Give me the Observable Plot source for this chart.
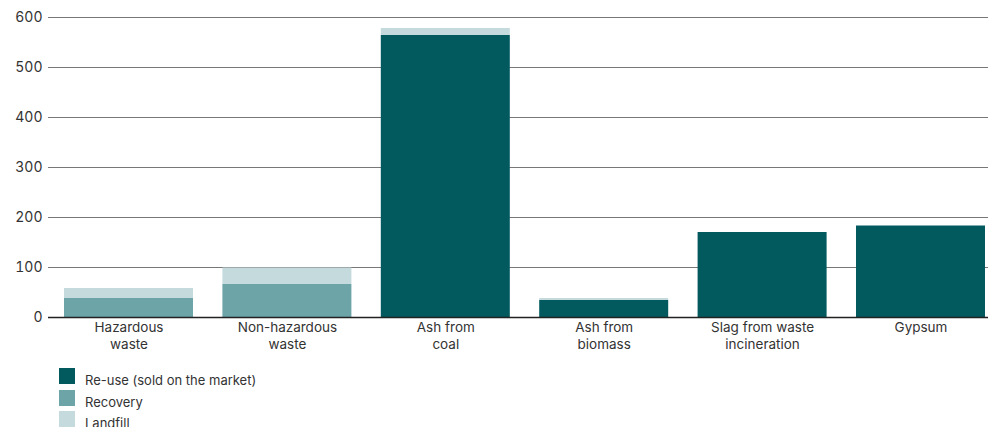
<!DOCTYPE html>
<html>
<head>
<meta charset="utf-8">
<script src="https://cdn.jsdelivr.net/npm/d3@7"></script>
<script src="https://cdn.jsdelivr.net/npm/@observablehq/plot@0.6"></script>
<style>
  body { margin: 0; background: #fff; font-family: Inter, "Open Sans", sans-serif; color: #333; }
  #legend { margin-left: 59px; margin-top: 4.5px; font-size: 13px; }
  .item { display: flex; align-items: flex-end; height: 21.5px; }
  .sw { width: 16px; height: 16px; margin-right: 10px; flex: none; }
  .lbl { line-height: 14px; position: relative; top: 3px; }
</style>
</head>
<body>
<div id="chart"></div>
<div id="legend"></div>
<script>
const categories = ["Hazardous\nwaste", "Non-hazardous\nwaste", "Ash from\ncoal", "Ash from\nbiomass", "Slag from waste\nincineration", "Gypsum"];
const reuse    = [0, 0, 564, 34, 170, 183];
const recovery = [38, 66, 0, 0, 0, 0];
const landfill = [20, 33, 14, 4, 0, 0];
const seriesNames = ["Re-use (sold on the market)", "Recovery", "Landfill"];
const seriesColors = ["#025a5f", "#6da4a8", "#c5dadc"];
const yTicks = [0, 100, 200, 300, 400, 500, 600];

const data = [];
[reuse, recovery, landfill].forEach((vals, si) => {
  categories.forEach((c, i) => data.push({category: c, series: seriesNames[si], value: vals[i]}));
});

const chart = Plot.plot({
  width: 988,
  height: 358,
  marginLeft: 48,
  marginRight: 0,
  marginTop: 17,
  marginBottom: 41,
  style: {fontFamily: "Inter, 'Open Sans', sans-serif", color: "#333", background: "#fff"},
  x: {domain: categories, paddingInner: 0.1856, paddingOuter: 0.06, align: 0.842, round: false, label: null},
  y: {domain: [0, 600], label: null},
  color: {domain: seriesNames, range: seriesColors},
  marks: [
    Plot.ruleY(yTicks.filter(d => d > 0), {stroke: "#777", strokeWidth: 1}),
    Plot.barY(data, {x: "category", y: "value", fill: "series", order: seriesNames}),
    Plot.ruleY([0], {stroke: "#222", strokeWidth: 1.5}),
    Plot.axisY({ticks: yTicks, tickSize: 0, tickPadding: 6, fontSize: 14, label: null}),
    Plot.axisX({tickSize: 0, tickPadding: 3, fontSize: 13.5, lineHeight: 1.25, label: null})
  ]
});
document.getElementById("chart").appendChild(chart);

const legend = document.getElementById("legend");
seriesNames.forEach((n, i) => {
  const it = document.createElement("div");
  it.className = "item";
  it.innerHTML = `<div class="sw" style="background:${seriesColors[i]}"></div><div class="lbl">${n}</div>`;
  legend.appendChild(it);
});
</script>
</body>
</html>
